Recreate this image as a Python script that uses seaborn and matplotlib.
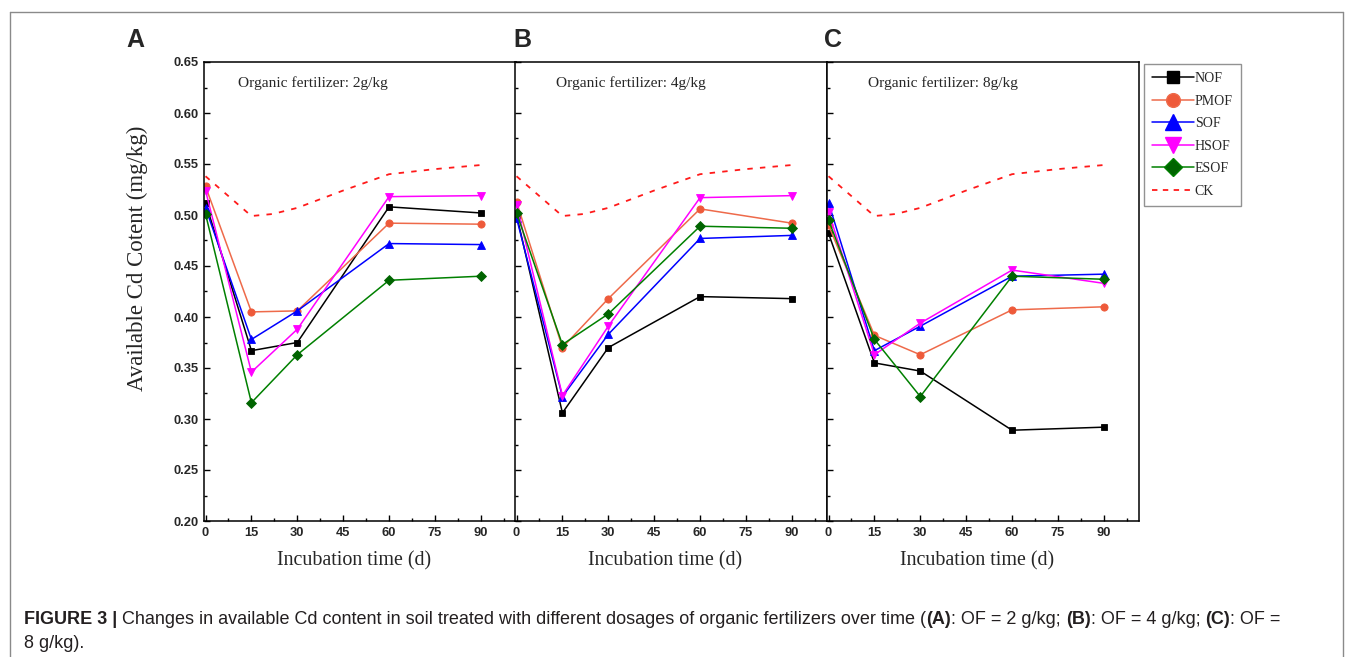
import numpy as np
import pandas as pd
import matplotlib
matplotlib.use('Agg')
import matplotlib.pyplot as plt
from matplotlib.lines import Line2D
from matplotlib.ticker import MultipleLocator
import seaborn as sns

# incubation days and measured available Cd (mg/kg)
days = [0, 15, 30, 60, 90]

# control curve
ck_days = [0, 15, 22, 30, 45, 60, 75, 90]
ck_values = [0.538, 0.499, 0.501, 0.507, 0.524, 0.540, 0.545, 0.549]

# A: 2 g/kg
nof_a = [0.512, 0.367, 0.375, 0.508, 0.502]
pmof_a = [0.528, 0.405, 0.406, 0.492, 0.491]
sof_a = [0.507, 0.378, 0.406, 0.472, 0.471]
hsof_a = [0.524, 0.346, 0.388, 0.518, 0.519]
esof_a = [0.501, 0.316, 0.363, 0.436, 0.440]

# B: 4 g/kg
nof_b = [0.500, 0.306, 0.370, 0.420, 0.418]
pmof_b = [0.513, 0.370, 0.418, 0.506, 0.492]
sof_b = [0.497, 0.322, 0.383, 0.477, 0.480]
hsof_b = [0.510, 0.323, 0.391, 0.517, 0.519]
esof_b = [0.502, 0.373, 0.403, 0.489, 0.487]

# C: 8 g/kg
nof_c = [0.482, 0.355, 0.347, 0.289, 0.292]
pmof_c = [0.490, 0.382, 0.363, 0.407, 0.410]
sof_c = [0.512, 0.367, 0.391, 0.440, 0.442]
hsof_c = [0.503, 0.363, 0.394, 0.446, 0.433]
esof_c = [0.495, 0.378, 0.322, 0.440, 0.437]

treatments = ['NOF', 'PMOF', 'SOF', 'HSOF', 'ESOF']
panels = [
    ('A', 'Organic fertilizer: 2g/kg', [nof_a, pmof_a, sof_a, hsof_a, esof_a]),
    ('B', 'Organic fertilizer: 4g/kg', [nof_b, pmof_b, sof_b, hsof_b, esof_b]),
    ('C', 'Organic fertilizer: 8g/kg', [nof_c, pmof_c, sof_c, hsof_c, esof_c]),
]

styles = {
    'NOF': dict(color='black', marker='s', markersize=4.8, markerfacecolor='black'),
    'PMOF': dict(color='#EE6A4A', marker='o', markersize=5.2, markerfacecolor='#EE5A3A'),
    'SOF': dict(color='#0000FF', marker='^', markersize=6.2, markerfacecolor='#0000FF'),
    'HSOF': dict(color='#FF00FF', marker='v', markersize=6.2, markerfacecolor='#FF00FF'),
    'ESOF': dict(color='#008000', marker='D', markersize=5.0, markerfacecolor='#006400'),
}

sns.set_style('ticks')
plt.rcParams['font.family'] = ['Liberation Serif', 'DejaVu Serif']

W, H = 1355, 657
fig = plt.figure(figsize=(W / 100, H / 100), dpi=100)

def fx(px):
    return px / W

def fy(py):
    return 1 - py / H

tick_font = dict(family='Liberation Sans', weight='bold', size=9.3)

axes = []
lefts = [204, 515, 827]
for i, (letter, note, series) in enumerate(panels):
    ax = fig.add_axes([fx(lefts[i]), fy(521), fx(312), 459 / H])
    axes.append(ax)
    for name, vals in zip(treatments, series):
        df = pd.DataFrame({'day': days, 'cd': vals})
        sns.lineplot(data=df, x='day', y='cd', ax=ax, linewidth=1.1,
                     markeredgewidth=0.6, markeredgecolor=styles[name]['markerfacecolor'],
                     legend=False, **styles[name])
    ck = pd.DataFrame({'day': ck_days, 'cd': ck_values})
    sns.lineplot(data=ck, x='day', y='cd', ax=ax, color='#FF1A1A', linewidth=1.3,
                 linestyle=(0, (3, 4)), legend=False)

    ax.set_xlim(-0.5, 101.5)
    ax.set_ylim(0.20, 0.65)
    ax.xaxis.set_major_locator(MultipleLocator(15))
    ax.xaxis.set_minor_locator(MultipleLocator(7.5))
    ax.yaxis.set_major_locator(MultipleLocator(0.05))
    ax.yaxis.set_minor_locator(MultipleLocator(0.025))
    ax.tick_params(which='major', direction='in', length=4.5, width=1, color='black', pad=4)
    ax.tick_params(which='minor', direction='in', length=2.5, width=1, color='black')
    for s in ax.spines.values():
        s.set_linewidth(1.1)
        s.set_color('black')
    ax.set_xticks([0, 15, 30, 45, 60, 75, 90])
    ax.set_xticklabels(['0', '15', '30', '45', '60', '75', '90'], fontdict=tick_font)
    if i == 0:
        ax.set_yticks([0.20, 0.25, 0.30, 0.35, 0.40, 0.45, 0.50, 0.55, 0.60, 0.65])
        ax.set_yticklabels([f'{v:.2f}' for v in ax.get_yticks()], fontdict=tick_font)
        ax.set_ylabel('Available Cd Cotent (mg/kg)', fontsize=16.5)
        ax.yaxis.set_label_coords(-0.180, 0.573)
    else:
        ax.tick_params(axis='y', labelleft=False)
        ax.set_ylabel('')
    ax.set_xlabel('Incubation time (d)', fontsize=14.4)
    ax.xaxis.set_label_coords(0.48, -0.086)
    ax.xaxis.label.set_va('center')
    ax.set_facecolor('white')
    ax.text(0.11 if i == 0 else 0.13, 0.953, note, transform=ax.transAxes,
            fontsize=11.1, va='center', ha='left')
    fig.text(fx([126, 513, 824][i]), fy(40), letter, family='Liberation Sans',
             weight='bold', fontsize=18, va='center', ha='left')

# legend
handles = [Line2D([], [], linewidth=1.1, **styles[n]) for n in treatments]
handles.append(Line2D([], [], color='#FF1A1A', linewidth=1.3, linestyle=(0, (3, 3))))
leg = fig.legend(handles, treatments + ['CK'], loc='upper left',
                 bbox_to_anchor=(fx(1144), fy(64)), borderaxespad=0,
                 fontsize=10, markerscale=1.9, handlelength=3.0, handletextpad=0.05,
                 labelspacing=0.68, borderpad=0.6, fancybox=False, frameon=True)
leg.get_frame().set_edgecolor('#777777')
leg.get_frame().set_linewidth(1.0)

# frame around the figure block
for xs, ys in [([10, 10], [12, 657]), ([10, 1343], [12, 12]), ([1343, 1343], [12, 657])]:
    fig.add_artist(Line2D([fx(x) for x in xs], [fy(y) for y in ys],
                          color='#8a8a8a', linewidth=1.0))

# caption with bold parts
renderer = fig.canvas.get_renderer()
def rich_line(x_px, y_px, parts, size=13.0):
    x = fx(x_px)
    for txt, bold in parts:
        t = fig.text(x, fy(y_px), txt, family='Liberation Sans', fontsize=size,
                     weight='bold' if bold else 'normal', color='#231F20', va='center')
        x += t.get_window_extent(renderer).width / W

rich_line(24, 620, [('FIGURE 3 | ', True),
                    ('Changes in available Cd content in soil treated with different dosages of '
                     'organic fertilizers over time (', False),
                    ('(A)', True), (': OF = 2 g/kg; ', False),
                    ('(B)', True), (': OF = 4 g/kg; ', False),
                    ('(C)', True), (': OF =', False)])
rich_line(24, 643, [('8 g/kg).', False)])

fig.savefig('out.png', dpi=100, facecolor='white')
